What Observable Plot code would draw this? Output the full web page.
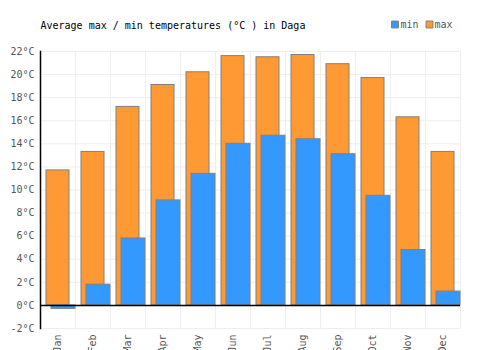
<!DOCTYPE html>
<html>
<head>
<meta charset="utf-8">
<script src="https://cdn.jsdelivr.net/npm/d3@7"></script>
<script src="https://cdn.jsdelivr.net/npm/@observablehq/plot@0.6"></script>
<style>
  html, body { margin: 0; padding: 0; background: #fff; }
</style>
</head>
<body>
<div id="chart"></div>
<script>
const months = ["Jan","Feb","Mar","Apr","May","Jun","Jul","Aug","Sep","Oct","Nov","Dec"];
const maxTemps = [11.7, 13.3, 17.2, 19.1, 20.2, 21.6, 21.5, 21.7, 20.9, 19.7, 16.3, 13.3];
const minTemps = [-0.3, 1.8, 5.8, 9.1, 11.4, 14.0, 14.7, 14.4, 13.1, 9.5, 4.8, 1.2];
const yTicks = [-2, 0, 2, 4, 6, 8, 10, 12, 14, 16, 18, 20, 22];
const titleText = "Average max / min temperatures (°C ) in Daga";
const seriesNames = ["min", "max"];

const data = months.map((m, i) => ({month: m, max: maxTemps[i], min: minTemps[i]}));

const chart = Plot.plot({
  width: 500,
  height: 350,
  marginLeft: 40,
  marginRight: 40,
  marginTop: 51,
  marginBottom: 22,
  style: {fontFamily: "'DejaVu Sans Mono', monospace", fontSize: "10px", background: "#fff", color: "#555"},
  x: {type: "band", domain: months, padding: 0, label: null},
  y: {domain: [-2, 22], nice: false, label: null},
  marks: [
    Plot.gridY({ticks: yTicks, stroke: "#eee", strokeOpacity: 1, strokeWidth: 1}),
    Plot.gridX({stroke: "#eee", strokeOpacity: 1, strokeWidth: 1, dx: 17.5}),
    Plot.barY(data, {x: "month", y: "max", fill: "#ff9933", stroke: "#808080", strokeWidth: 1, insetLeft: 6, insetRight: 6}),
    Plot.barY(data, {x: "month", y: "min", fill: "#3399ff", stroke: "#808080", strokeWidth: 1, insetLeft: 11, insetRight: 0}),
    Plot.ruleY([0], {stroke: "#000", strokeWidth: 1.5}),
    Plot.frame({anchor: "left", stroke: "#000", strokeWidth: 1.5}),
    Plot.axisY({ticks: yTicks, tickFormat: d => d + "°C", tickSize: 0, tickPadding: 6, fontSize: 10, fill: "#555", label: null}),
    Plot.axisX({tickRotate: -90, tickSize: 0, tickPadding: 6, fontSize: 10, fill: "#555", label: null}),
    Plot.text([titleText], {frameAnchor: "top-left", dy: -26, text: d => d, textAnchor: "start", lineAnchor: "middle", fill: "#000", fontSize: 10}),
    Plot.dot([seriesNames[0]], {frameAnchor: "top-right", dx: -65.5, dy: -27, symbol: "square", r: 3.9, fill: "#3399ff", stroke: "#808080", strokeWidth: 1}),
    Plot.text([seriesNames[0]], {frameAnchor: "top-right", dx: -60, dy: -27, text: d => d, textAnchor: "start", lineAnchor: "middle", fill: "#555", fontSize: 10}),
    Plot.dot([seriesNames[1]], {frameAnchor: "top-right", dx: -31, dy: -27, symbol: "square", r: 3.9, fill: "#ff9933", stroke: "#808080", strokeWidth: 1}),
    Plot.text([seriesNames[1]], {frameAnchor: "top-right", dx: -26, dy: -27, text: d => d, textAnchor: "start", lineAnchor: "middle", fill: "#555", fontSize: 10})
  ]
});
document.getElementById("chart").appendChild(chart);
</script>
</body>
</html>
